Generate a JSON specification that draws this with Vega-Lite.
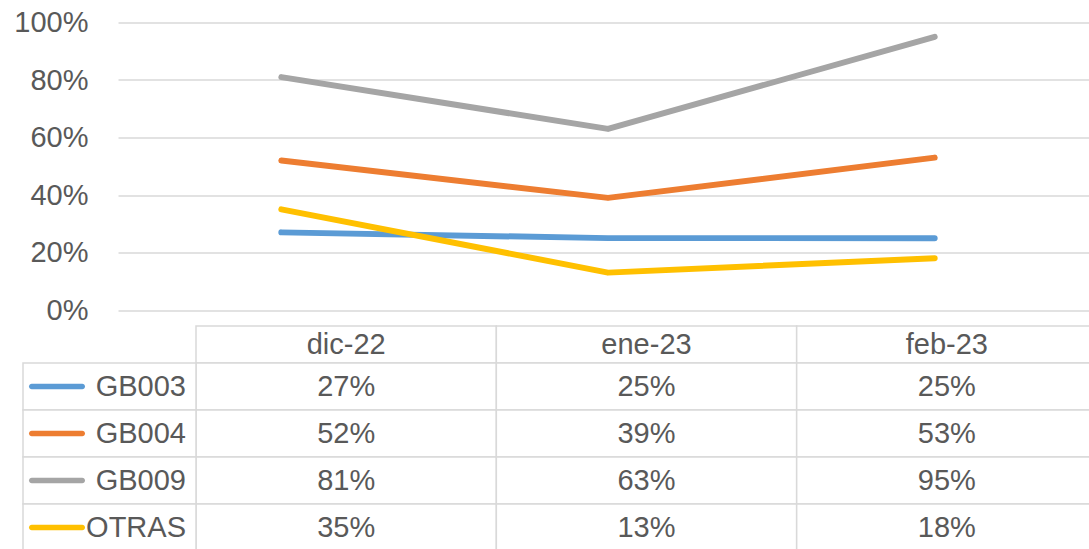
{
  "$schema": "https://vega.github.io/schema/vega-lite/v6.json",
  "width": 980,
  "height": 287.5,
  "autosize": {"type": "none"},
  "padding": {"left": 118, "top": 22.5, "right": 0, "bottom": 240},
  "background": "white",
  "config": {
    "view": {"stroke": null},
    "font": "Liberation Sans",
    "text": {"font": "Liberation Sans", "fontSize": 29, "color": "#595959"}
  },
  "datasets": {
    "valores": [
      {"serie": "GB003", "mes": "dic-22", "valor": 0.27},
      {"serie": "GB003", "mes": "ene-23", "valor": 0.25},
      {"serie": "GB003", "mes": "feb-23", "valor": 0.25},
      {"serie": "GB004", "mes": "dic-22", "valor": 0.52},
      {"serie": "GB004", "mes": "ene-23", "valor": 0.39},
      {"serie": "GB004", "mes": "feb-23", "valor": 0.53},
      {"serie": "GB009", "mes": "dic-22", "valor": 0.81},
      {"serie": "GB009", "mes": "ene-23", "valor": 0.63},
      {"serie": "GB009", "mes": "feb-23", "valor": 0.95},
      {"serie": "OTRAS", "mes": "dic-22", "valor": 0.35},
      {"serie": "OTRAS", "mes": "ene-23", "valor": 0.13},
      {"serie": "OTRAS", "mes": "feb-23", "valor": 0.18}
    ],
    "meses": [{"mes": "dic-22"}, {"mes": "ene-23"}, {"mes": "feb-23"}],
    "series": [{"serie": "GB003"}, {"serie": "GB004"}, {"serie": "GB009"}, {"serie": "OTRAS"}]
  },
  "resolve": {"scale": {"x": "independent", "y": "independent"}},
  "layer": [
    {
      "data": {"name": "valores"},
      "mark": {"type": "line", "strokeWidth": 6, "strokeCap": "round", "strokeJoin": "round"},
      "encoding": {
        "x": {"field": "mes", "type": "ordinal", "sort": ["dic-22", "ene-23", "feb-23"], "scale": {"type": "point", "padding": 0.5}, "axis": null},
        "y": {
          "field": "valor", "type": "quantitative",
          "scale": {"domain": [0, 1]},
          "axis": {
            "values": [0, 0.2, 0.4, 0.6, 0.8, 1], "format": ".0%", "title": null,
            "grid": true, "gridColor": "#d9d9d9", "gridWidth": 1.5,
            "domain": false, "ticks": false, "labelPadding": 30,
            "labelFontSize": 29, "labelColor": "#595959", "labelFont": "Liberation Sans"
          }
        },
        "color": {
          "field": "serie", "type": "nominal",
          "scale": {"domain": ["GB003", "GB004", "GB009", "OTRAS"], "range": ["#5B9BD5", "#ED7D31", "#A5A5A5", "#FFC000"]},
          "legend": null
        }
      }
    },
    {
      "data": {"name": "meses"},
      "encoding": {
        "x": {"field": "mes", "type": "ordinal", "sort": ["dic-22", "ene-23", "feb-23"], "scale": {"type": "band", "range": [78, 979], "paddingInner": 0, "paddingOuter": 0}, "axis": null},
        "y": {"datum": "encabezado", "type": "nominal", "scale": {"type": "band", "domain": ["encabezado"], "range": [303.5, 340.5], "paddingInner": 0, "paddingOuter": 0}, "axis": null}
      },
      "layer": [
        {"mark": {"type": "rect", "fill": "white", "stroke": "#d9d9d9", "strokeWidth": 1.5}},
        {"mark": {"type": "text", "align": "center", "baseline": "middle"}, "encoding": {"text": {"field": "mes"}}}
      ]
    },
    {
      "data": {"name": "valores"},
      "encoding": {
        "x": {"field": "mes", "type": "ordinal", "sort": ["dic-22", "ene-23", "feb-23"], "scale": {"type": "band", "range": [78, 979], "paddingInner": 0, "paddingOuter": 0}, "axis": null},
        "y": {"field": "serie", "type": "nominal", "scale": {"type": "band", "domain": ["GB003", "GB004", "GB009", "OTRAS"], "range": [340.5, 528.5], "paddingInner": 0, "paddingOuter": 0}, "axis": null}
      },
      "layer": [
        {"mark": {"type": "rect", "fill": "white", "stroke": "#d9d9d9", "strokeWidth": 1.5}},
        {"mark": {"type": "text", "align": "center", "baseline": "middle"}, "encoding": {"text": {"field": "valor", "type": "quantitative", "format": ".0%"}}}
      ]
    },
    {
      "data": {"name": "series"},
      "mark": {"type": "rect", "fill": "white", "stroke": "#d9d9d9", "strokeWidth": 1.5},
      "encoding": {
        "x": {"datum": "leyenda", "type": "nominal", "scale": {"type": "band", "domain": ["leyenda"], "range": [-95, 78], "paddingInner": 0, "paddingOuter": 0}, "axis": null},
        "y": {"field": "serie", "type": "nominal", "scale": {"type": "band", "domain": ["GB003", "GB004", "GB009", "OTRAS"], "range": [340.5, 528.5], "paddingInner": 0, "paddingOuter": 0}, "axis": null}
      }
    },
    {
      "data": {"name": "series"},
      "encoding": {
        "y": {"field": "serie", "type": "nominal", "scale": {"type": "band", "domain": ["GB003", "GB004", "GB009", "OTRAS"], "range": [340.5, 528.5], "paddingInner": 0, "paddingOuter": 0}, "axis": null}
      },
      "layer": [
        {
          "mark": {"type": "tick", "orient": "horizontal", "size": 56, "thickness": 5.5, "cornerRadius": 2.75, "opacity": 1},
          "encoding": {
            "x": {"datum": "línea", "type": "nominal", "scale": {"type": "point", "domain": ["línea", "nombre"], "range": [-61, 68], "padding": 0}, "axis": null},
            "color": {"field": "serie", "type": "nominal", "legend": null}
          }
        },
        {
          "mark": {"type": "text", "align": "right", "baseline": "middle"},
          "encoding": {
            "x": {"datum": "nombre", "type": "nominal", "scale": {"type": "point", "domain": ["línea", "nombre"], "range": [-61, 68], "padding": 0}, "axis": null},
            "text": {"field": "serie"}
          }
        }
      ]
    }
  ]
}
